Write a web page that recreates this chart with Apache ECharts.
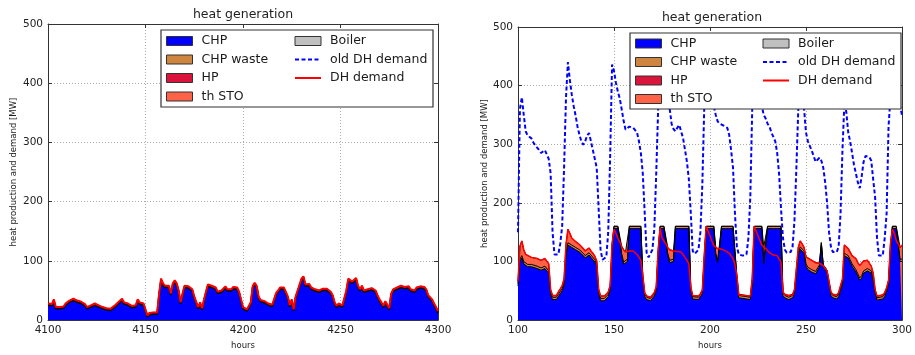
<!DOCTYPE html>
<html><head><meta charset="utf-8">
<script src="https://cdn.jsdelivr.net/npm/echarts@6/dist/echarts.min.js"></script>
<style>html,body{margin:0;padding:0;background:#fff}#c{width:915px;height:355px}</style>
</head><body><div id="c"></div>
<script>
// ---------- data ----------
const xTicksLeft = [4100, 4150, 4200, 4250, 4300];
const xTicksRight = [100, 150, 200, 250, 300];
const yTicks = [0, 100, 200, 300, 400, 500];

// left chart: hourly heat demand (= CHP production), hours 4100..4300
const hoursLeft = [];
for (let h = 4100; h <= 4300; h++) hoursLeft.push(h);
const demandLeft = [
  28,28,27,35,22,21,22,22,23,28,
  31,33,36,36,35,33,32,31,30,27,
  22,24,25,28,28,27,25,24,22,21,
  20,18,19,18,24,27,30,33,36,30,
  28,28,27,24,23,25,35,30,29,28,
  25,8,12,13,13,12,13,45,70,62,
  58,60,58,45,62,67,62,50,30,45,
  58,58,57,56,52,40,38,22,30,20,
  35,48,60,63,58,55,55,48,50,50,
  52,57,52,54,52,56,58,55,48,35,
  22,20,18,18,30,58,63,58,40,34,
  35,32,30,28,27,26,26,46,50,55,
  56,55,52,40,25,35,18,40,50,60,
  70,74,60,58,61,55,56,52,50,50,
  52,53,54,53,52,48,42,30,24,28,
  27,25,24,50,70,68,65,64,71,58,
  52,58,50,47,52,55,54,52,50,42,
  35,30,24,32,30,20,45,52,54,55,
  56,58,61,56,55,57,52,55,50,55,
  52,57,55,56,52,42,40,35,28,22,
  15
];

// right chart: stack layers at read-off hours
const hoursRight = [
  100,101,102,103,104,105,107,108,110,112,
  113,114,115,116,117,118,120,121,122,123,
  124,125,126,127,128,130,132,134,135,136,
  137,138,139,140,141,142,143,145,146,147,
  148,149,150,151,152,153,154,155,156,157,
  158,160,162,164,165,166,167,169,170,171,
  172,173,174,175,176,177,178,179,180,181,
  182,185,186,187,188,189,190,191,194,195,
  196,197,198,199,200,201,202,203,204,205,
  206,208,209,210,212,213,214,215,221,222,
  223,224,225,226,227,228,229,230,231,233,
  235,236,237,238,239,241,243,244,245,246,
  247,248,249,250,251,253,255,256,257,258,
  259,260,261,262,263,264,266,267,268,269,
  270,271,272,273,274,276,277,278,279,280,
  282,283,284,285,286,287,290,291,292,293,
  294,295,296,297,298,299,300
];
const chpRight = [
  58,100,106,96,93,91,91,89,88,85,
  86,88,86,80,43,35,35,40,45,50,
  60,110,128,126,124,120,116,110,106,107,
  111,107,104,99,92,45,33,33,35,40,
  50,120,156,156,156,156,110,95,92,100,
  156,156,156,156,70,40,35,33,36,41,
  50,110,156,156,156,156,110,98,96,100,
  156,156,156,156,156,156,50,36,35,38,
  45,100,156,156,156,156,156,110,98,100,
  156,156,156,156,156,156,70,38,35,60,
  156,156,156,156,156,96,96,156,156,156,
  156,156,156,42,38,35,38,45,77,110,
  121,118,114,92,86,82,79,77,90,128,
  90,86,80,78,42,38,36,40,43,60,
  110,112,106,99,92,82,75,68,72,80,
  84,85,80,66,45,34,36,40,49,60,
  120,156,156,156,156,100,100
];
const wasteRight = [
  4,4,4,4,4,4,4,4,4,4,
  4,4,4,4,4,4,4,4,4,4,
  4,4,4,4,4,4,4,4,4,4,
  4,4,4,4,4,4,4,4,4,4,
  4,4,4,4,4,4,4,4,4,4,
  4,4,4,4,4,4,4,4,4,4,
  4,4,4,4,4,4,4,4,4,4,
  4,4,4,4,4,4,4,4,4,4,
  4,4,4,4,4,4,4,4,4,4,
  4,4,4,4,4,4,4,4,4,4,
  4,4,4,4,4,4,4,4,4,4,
  4,4,4,4,4,4,4,4,4,4,
  4,4,4,4,4,4,4,4,4,4,
  4,4,4,4,4,4,4,4,4,4,
  4,4,4,4,4,4,4,4,4,4,
  4,4,4,4,4,4,4,4,4,4,
  4,4,4,4,4,4,4
];
const stoRight = [
  4,22,25,20,15,14,12,12,13,13,
  14,13,12,12,5,3,3,4,4,5,
  6,15,23,18,12,10,9,8,8,8,
  8,7,6,6,5,4,4,4,4,4,
  5,6,0,0,0,0,12,21,20,12,
  0,0,0,0,2,3,2,2,3,2,
  3,6,0,0,0,0,10,18,18,14,
  0,0,0,0,0,0,2,2,2,3,
  2,6,0,0,0,0,0,10,20,16,
  0,0,0,0,0,0,2,2,2,6,
  0,0,0,0,0,25,22,0,0,0,
  0,0,0,2,2,3,2,3,7,10,
  10,8,6,12,17,16,15,15,3,0,
  0,0,0,0,2,2,3,3,3,6,
  14,13,12,13,14,19,19,21,20,17,
  14,10,8,10,3,3,3,3,2,4,
  6,0,0,0,0,20,24
];
const demandRight = [
  66,126,135,120,112,109,107,105,105,102,
  104,105,102,96,52,42,42,48,53,59,
  70,129,155,148,140,134,129,122,118,119,
  123,118,114,109,101,53,41,41,43,48,
  59,130,155,148,140,133,126,120,116,116,
  118,118,112,102,76,47,41,39,43,47,
  57,120,157,140,135,130,124,120,118,118,
  116,116,112,107,102,96,56,42,41,45,
  51,110,160,152,144,135,127,124,122,120,
  121,118,120,114,105,95,76,43,41,70,
  160,152,144,136,128,125,122,121,115,111,
  110,104,99,48,44,42,43,52,88,124,
  135,130,124,108,107,102,98,96,97,96,
  93,88,84,82,48,44,43,47,50,70,
  128,129,122,116,110,105,98,93,96,101,
  102,99,92,80,52,41,43,47,55,68,
  130,155,148,136,130,124,128
];

// right chart: old DH demand, hourly 100..300
const hoursOld = [];
for (let h = 100; h <= 300; h++) hoursOld.push(h);
const oldDemandRight = [
  150,360,380,350,322,315,312,310,303,298,
  295,290,285,283,290,290,275,250,150,112,
  110,112,130,160,260,380,440,410,385,365,
  349,330,316,305,299,305,315,319,305,290,
  275,260,190,120,103,103,108,150,280,436,
  425,405,390,378,360,340,325,322,330,333,
  328,326,320,305,285,250,182,115,107,107,
  120,155,250,360,420,430,420,400,375,361,
  335,326,322,328,333,330,310,290,270,240,
  182,118,113,113,120,150,230,361,410,420,
  410,390,365,350,339,335,333,332,331,328,
  316,290,260,182,125,112,110,110,110,112,
  140,210,361,420,440,420,390,365,350,344,
  335,330,320,318,305,285,249,190,140,120,
  115,115,116,125,170,260,361,410,400,360,
  320,305,297,289,280,270,272,277,272,260,
  235,200,150,125,116,115,116,125,182,290,
  370,355,320,305,285,265,250,235,225,245,
  270,280,283,278,272,240,210,140,110,108,
  110,140,182,330,380,400,405,390,378,365,
  350
];

const legendCol1 = ['CHP', 'CHP waste', 'HP', 'th STO'];
const legendCol2 = ['Boiler', 'old DH demand', 'DH demand'];

// ---------- styling ----------
const FONT = 'DejaVu Sans';
const C = {CHP:'#0000ff', 'CHP waste':'#cd853f', HP:'#dc143c', 'th STO':'#ff6347', Boiler:'#c0c0c0'};
const pairs = (xs, ys) => xs.map((x, i) => [x, ys[i]]);
// cumulative layer tops for the stacked areas (drawn back to front)
const wasteTop = chpRight.map((v, i) => v + wasteRight[i]);
const stoTop = wasteTop.map((v, i) => v + stoRight[i]);
const frame = {color:'#333', width:1};
const fmt = v => String(v);

function xAxes(grid, ticks) {
  const min = ticks[0], max = ticks[ticks.length - 1], interval = ticks[1] - ticks[0];
  return [
    {gridIndex:grid, type:'value', min, max, interval, name:'hours', nameLocation:'middle', nameGap:20,
     nameTextStyle:{fontFamily:FONT, fontSize:8.5, color:'#222'},
     axisLine:{show:true, onZero:false, lineStyle:frame},
     axisTick:{show:true, inside:true, length:4, lineStyle:frame},
     axisLabel:{fontFamily:FONT, fontSize:10.5, color:'#222', margin:5, formatter:fmt},
     splitLine:{show:true, lineStyle:{color:'#aaa', type:[1,2], width:1}}},
    {gridIndex:grid, type:'value', position:'top', min, max, interval,
     axisLine:{show:true, onZero:false, lineStyle:frame},
     axisTick:{show:true, inside:true, length:4, lineStyle:frame},
     axisLabel:{show:false}, splitLine:{show:false}}
  ];
}
function yAxes(grid, gap) {
  return [
    {gridIndex:grid, type:'value', min:yTicks[0], max:yTicks[yTicks.length-1], interval:yTicks[1]-yTicks[0],
     name:'heat production and demand [MW]', nameLocation:'middle', nameGap:gap,
     nameTextStyle:{fontFamily:FONT, fontSize:8.5, color:'#222'},
     axisLine:{show:true, onZero:false, lineStyle:frame},
     axisTick:{show:true, inside:true, length:4, lineStyle:frame},
     axisLabel:{fontFamily:FONT, fontSize:10.5, color:'#222', margin:5, formatter:fmt},
     splitLine:{show:true, lineStyle:{color:'#aaa', type:[1,2], width:1}}},
    {gridIndex:grid, type:'value', position:'right', min:yTicks[0], max:yTicks[yTicks.length-1], interval:yTicks[1]-yTicks[0],
     axisLine:{show:true, onZero:false, lineStyle:frame},
     axisTick:{show:true, inside:true, length:4, lineStyle:frame},
     axisLabel:{show:false}, splitLine:{show:false}}
  ];
}
function area(name, xi, data) {
  return {name, type:'line', xAxisIndex:xi, yAxisIndex:xi, data, symbol:'none', showSymbol:false,
    lineStyle:{color:'#000', width:1}, areaStyle:{color:C[name], opacity:1}, itemStyle:{color:C[name]}, z:2};
}
function legendItem(n) {
  if (C[n]) return {name:n, icon:'rect', itemStyle:{color:C[n], borderColor:'#333', borderWidth:1}};
  return {name:n, itemStyle:{opacity:0}};
}
function legend(left, top, names) {
  return {left, top, orient:'vertical', padding:0, itemGap:2.5, itemWidth:26, itemHeight:9, z:20,
    selectedMode:false, data:names.map(legendItem),
    textStyle:{fontFamily:FONT, fontSize:12.5, color:'#1a1a1a', lineHeight:16, padding:[0,0,0,4]}};
}

const option = {
  animation:false,
  backgroundColor:'#fff',
  grid:[
    {left:48, top:24, width:390, height:302},
    {left:518, top:27, width:388, height:299}
  ],
  xAxis:[...xAxes(0, xTicksLeft), ...xAxes(1, xTicksRight)],
  yAxis:[...yAxes(0, 30), ...yAxes(1, 28)],
  legend:[legend(166, 33, legendCol1), legend(294, 33, legendCol2),
          legend(635, 35.5, legendCol1), legend(762, 35.5, legendCol2)],
  graphic:[
    {type:'rect', z:10, shape:{x:161, y:30, width:272, height:77}, style:{fill:'#fff', stroke:'#333', lineWidth:1.2}},
    {type:'rect', z:10, shape:{x:630, y:33, width:271, height:76}, style:{fill:'#fff', stroke:'#333', lineWidth:1.2}},
    {type:'text', z:10, x:243, y:15, style:{text:'heat generation', font:'12.5px "DejaVu Sans"', fill:'#222', align:'center', verticalAlign:'middle'}},
    {type:'text', z:10, x:712, y:18, style:{text:'heat generation', font:'12.5px "DejaVu Sans"', fill:'#222', align:'center', verticalAlign:'middle'}}
  ],
  series:[
    area('CHP', 0, pairs(hoursLeft, demandLeft)),
    {name:'DH demand', type:'line', xAxisIndex:0, yAxisIndex:0, data:pairs(hoursLeft, demandLeft), symbol:'none', showSymbol:false,
     lineStyle:{color:'#ff0000', width:2, shadowColor:'#000', shadowOffsetY:1.5, shadowBlur:0}, itemStyle:{color:'#ff0000'}, z:3},

    area('th STO', 2, pairs(hoursRight, stoTop)),
    area('CHP waste', 2, pairs(hoursRight, wasteTop)),
    area('CHP', 2, pairs(hoursRight, chpRight)),
    {name:'HP', type:'line', xAxisIndex:2, yAxisIndex:2, data:[], itemStyle:{color:C.HP}},
    {name:'Boiler', type:'line', xAxisIndex:2, yAxisIndex:2, data:[], itemStyle:{color:C.Boiler}},
    {name:'DH demand', type:'line', xAxisIndex:2, yAxisIndex:2, data:pairs(hoursRight, demandRight), symbol:'none', showSymbol:false,
     lineStyle:{color:'#ff0000', width:1.5}, itemStyle:{color:'#ff0000'}, z:3},
    {name:'old DH demand', type:'line', xAxisIndex:2, yAxisIndex:2, data:pairs(hoursOld, oldDemandRight), symbol:'none', showSymbol:false,
     lineStyle:{color:'#0000ff', width:2, type:[4,2.5]}, itemStyle:{color:'#0000ff'}, z:4}
  ]
};
const chart = echarts.init(document.getElementById('c'), null, {renderer:'canvas'});
chart.setOption(option);
</script></body></html>
